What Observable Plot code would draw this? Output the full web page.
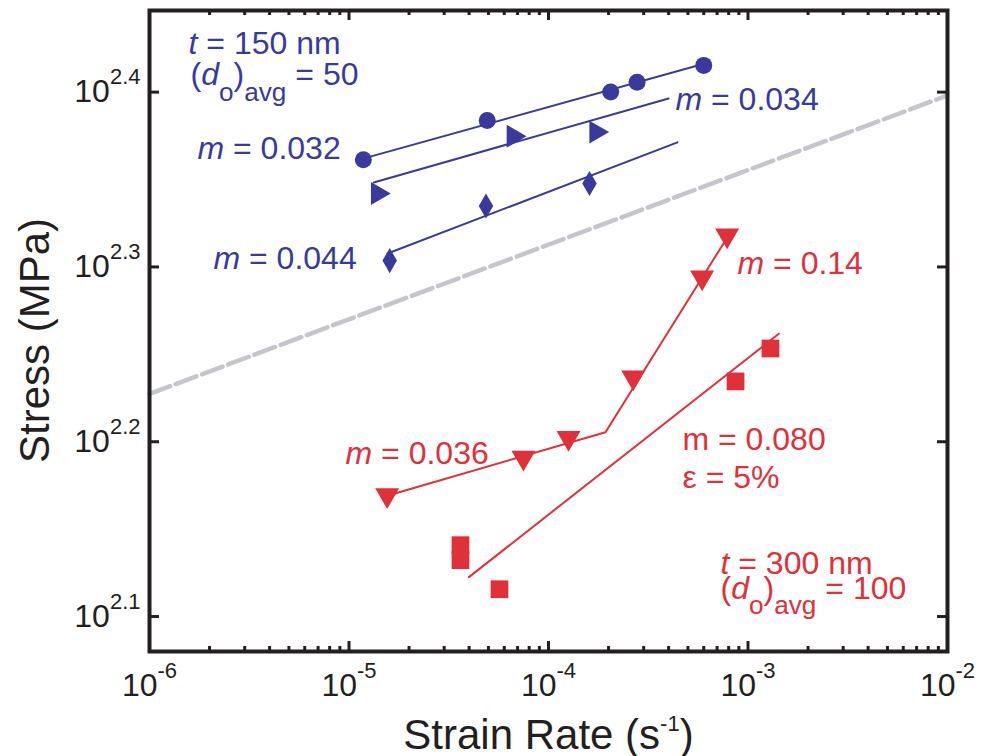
<!DOCTYPE html>
<html><head><meta charset="utf-8">
<script src="https://cdn.jsdelivr.net/npm/d3@7"></script>
<script src="https://cdn.jsdelivr.net/npm/@observablehq/plot@0.6"></script>
<style>
html,body{margin:0;padding:0;background:#fff;}
#chart{width:981px;height:756px;overflow:hidden;}
</style></head><body><div id="chart"></div>
<script>
// ---------- data (strain rate in 1/s, stress in MPa) ----------
// t = 150 nm, circles (m = 0.032)
const blueCircleRate   = [1.18e-5, 4.93e-5, 2.05e-4, 2.78e-4, 6.0e-4];
const blueCircleStress = [229.8, 242.0, 251.2, 254.5, 260.2];
const blueCircleFitRate   = [1.14e-5, 6.34e-4];
const blueCircleFitStress = [229.9, 261.2];
// t = 150 nm, right triangles (m = 0.034)
const blueTriRate   = [1.39e-5, 6.66e-5, 1.73e-4];
const blueTriStress = [219.8, 237.0, 238.3];
const blueTriFitRate   = [1.33e-5, 4.0e-4];
const blueTriFitStress = [223.0, 249.1];
// t = 150 nm, diamonds (m = 0.044)
const blueDiaRate   = [1.60e-5, 4.86e-5, 1.605e-4];
const blueDiaStress = [201.2, 216.2, 222.7];
const blueDiaFitRate   = [1.56e-5, 4.43e-4];
const blueDiaFitStress = [203.1, 235.1];
// t = 300 nm, down triangles (m = 0.036 / 0.14)
const redTriRate   = [1.554e-5, 7.49e-5, 1.26e-4, 2.66e-4, 5.89e-4, 7.86e-4];
const redTriStress = [147.7, 155.2, 159.3, 172.5, 196.8, 208.0];
const redTriFitRate   = [1.524e-5, 1.93e-4, 7.89e-4];
const redTriFitStress = [147.5, 160.5, 207.5];
// t = 300 nm, squares (m = 0.080, eps = 5%)
const redSqRate   = [3.62e-5, 3.62e-5, 5.68e-5, 8.66e-4, 1.296e-3];
const redSqStress = [138.3, 135.6, 130.5, 171.6, 179.2];
const redSqFitRate   = [3.99e-5, 1.427e-3];
const redSqFitStress = [132.6, 182.7];
// grey dashed reference line
const refRate   = [1e-6, 1e-2];
const refStress = [168.8, 250.1];

// annotations
const blueNoteText   = ["*t* = 150 nm", "(*d*_{o})_{avg} = 50", "*m* = 0.032", "*m* = 0.044", "*m* = 0.034"];
const blueNoteRate   = [1.569e-6, 1.605e-6, 1.74e-6, 2.093e-6, 4.33e-4];
const blueNoteStress = [264.3, 253.4, 229.9, 198.9, 245.5];
const redNoteText   = ["*m* = 0.14", "*m* = 0.036", "m = 0.080", "ε = 5%", "*t* = 300 nm", "(*d*_{o})_{avg} = 100"];
const redNoteRate   = [8.86e-4, 9.61e-6, 4.695e-4, 4.695e-4, 7.28e-4, 7.28e-4];
const redNoteStress = [197.8, 154.0, 156.7, 149.2, 133.2, 128.9];

// ticks
const xMajor = [1e-6, 1e-5, 1e-4, 1e-3, 1e-2];
const xTickLabels = ["10^{-6}", "10^{-5}", "10^{-4}", "10^{-3}", "10^{-2}"];
const xMinorMultipliers = [2, 3, 4, 5, 6, 7, 8, 9];
const yMajorExp = [2.1, 2.2, 2.3, 2.4];
const yTickLabels = ["10^{2.1}", "10^{2.2}", "10^{2.3}", "10^{2.4}"];
const xTitle = "Strain Rate (s^{-1})";
const yTitle = "Stress (MPa)";

// ---------- chart ----------
const FONT = "'Liberation Sans', Arial, Helvetica, sans-serif";
const BLUE = "#3a3a9c", RED = "#e0303a", INK = "#231f20", GREY = "#c4c6cc";
const W = 981, H = 756, ML = 149, MR = 34, MT = 10, MB = 105;
const innerW = W - ML - MR, innerH = H - MT - MB;
const MAJ = 10, MIN = 5;

const pts = (xs, ys) => xs.map((x, i) => ({x, y: ys[i]}));
const notes = (t, xs, ys) => t.map((s, i) => ({text: s, x: xs[i], y: ys[i]}));
const yMajor = yMajorExp.map(e => 10 ** e);
const xMinor = xMajor.slice(0, -1).flatMap(d => xMinorMultipliers.map(k => d * k));
const lookup = (vals, labels) => d => {
  const i = vals.findIndex(v => Math.abs(Math.log10(v) - Math.log10(d)) < 1e-6);
  return i < 0 ? "" : labels[i];
};

const lineOpts = c => ({x: "x", y: "y", stroke: c, strokeWidth: 2});
const noteOpts = c => ({x: "x", y: "y", text: "text", fill: c, fontSize: 32, textAnchor: "start", lineAnchor: "bottom"});

const chart = Plot.plot({
  width: W, height: H,
  marginLeft: ML, marginRight: MR, marginTop: MT, marginBottom: MB,
  style: {fontFamily: FONT, background: "white", color: INK},
  x: {type: "log", domain: [1e-6, 1e-2]},
  y: {type: "log", domain: [10 ** 2.08, 10 ** 2.4467]},
  marks: [
    Plot.line(pts(refRate, refStress), {x: "x", y: "y", stroke: GREY, strokeWidth: 4.5, strokeDasharray: "22,6"}),
    Plot.line(pts(blueCircleFitRate, blueCircleFitStress), lineOpts(BLUE)),
    Plot.line(pts(blueTriFitRate, blueTriFitStress), lineOpts(BLUE)),
    Plot.line(pts(blueDiaFitRate, blueDiaFitStress), lineOpts(BLUE)),
    Plot.line(pts(redTriFitRate, redTriFitStress), lineOpts(RED)),
    Plot.line(pts(redSqFitRate, redSqFitStress), lineOpts(RED)),
    Plot.dot(pts(blueCircleRate, blueCircleStress), {x: "x", y: "y", symbol: "circle", r: 8.5, fill: BLUE}),
    Plot.dot(pts(blueTriRate, blueTriStress), {x: "x", y: "y", symbol: "triangle", rotate: 90, r: 8.5, fill: BLUE}),
    Plot.dot(pts(blueDiaRate, blueDiaStress), {x: "x", y: "y", symbol: "diamond", r: 7.6, fill: BLUE}),
    Plot.dot(pts(redTriRate, redTriStress), {x: "x", y: "y", symbol: "triangle", rotate: 180, r: 8.9, fill: RED}),
    Plot.dot(pts(redSqRate, redSqStress), {x: "x", y: "y", symbol: "square", r: 10, fill: RED}),
    Plot.text(notes(blueNoteText, blueNoteRate, blueNoteStress), noteOpts(BLUE)),
    Plot.text(notes(redNoteText, redNoteRate, redNoteStress), noteOpts(RED)),
    // ticks (inward, on all four sides)
    Plot.ruleX(xMajor, {x: d => d, insetTop: innerH - MAJ, stroke: INK, strokeWidth: 3}),
    Plot.ruleX(xMajor, {x: d => d, insetBottom: innerH - MAJ, stroke: INK, strokeWidth: 3}),
    Plot.ruleX(xMinor, {x: d => d, insetTop: innerH - MIN, stroke: INK, strokeWidth: 3}),
    Plot.ruleX(xMinor, {x: d => d, insetBottom: innerH - MIN, stroke: INK, strokeWidth: 3}),
    Plot.ruleY(yMajor, {y: d => d, insetRight: innerW - MAJ, stroke: INK, strokeWidth: 3}),
    Plot.ruleY(yMajor, {y: d => d, insetLeft: innerW - MAJ, stroke: INK, strokeWidth: 3}),
    Plot.frame({stroke: INK, strokeWidth: 4}),
    Plot.axisX({anchor: "bottom", ticks: xMajor, tickSize: 0, tickPadding: 22, fontSize: 32,
                tickFormat: lookup(xMajor, xTickLabels), label: null}),
    Plot.axisY({anchor: "left", ticks: yMajor, tickSize: 0, tickPadding: 9, fontSize: 32,
                tickFormat: lookup(yMajor, yTickLabels), label: null}),
    Plot.text([xTitle], {text: d => d, frameAnchor: "bottom", dy: 97, fontSize: 42, lineAnchor: "bottom", textAnchor: "middle", fill: INK}),
    Plot.text([yTitle], {text: d => d, frameAnchor: "left", rotate: -90, dx: -101, dy: 9.5, fontSize: 42, lineAnchor: "bottom", textAnchor: "middle", fill: INK})
  ]
});

document.getElementById("chart").appendChild(chart);

// ---------- rich text: *italic*, _{sub}, ^{sup} ----------
function richify(root) {
  const NS = "http://www.w3.org/2000/svg";
  root.querySelectorAll("text").forEach(el => {
    const src = el.textContent;
    if (!/[*_^]/.test(src)) return;
    const fs = parseFloat(getComputedStyle(el).fontSize) || 32;
    const tokens = src.match(/\*[^*]+\*|_\{[^}]*\}|\^\{[^}]*\}|[^*_^]+/g) || [];
    while (el.firstChild) el.removeChild(el.firstChild);
    let shift = 0;
    for (const tok of tokens) {
      const ts = document.createElementNS(NS, "tspan");
      let text = tok, target = 0, size = null, italic = false;
      if (tok[0] === "*") { text = tok.slice(1, -1); italic = true; }
      else if (tok[0] === "_") { text = tok.slice(2, -1); size = fs * 0.82; target = fs * 0.47; }
      else if (tok[0] === "^") { text = tok.slice(2, -1); size = 22; target = -18; }
      if (target !== shift) ts.setAttribute("dy", (target - shift).toFixed(2));
      shift = target;
      if (size) ts.setAttribute("font-size", size.toFixed(1));
      if (italic) ts.setAttribute("font-style", "italic");
      ts.textContent = text;
      el.appendChild(ts);
    }
  });
}
richify(chart);
</script></body></html>
